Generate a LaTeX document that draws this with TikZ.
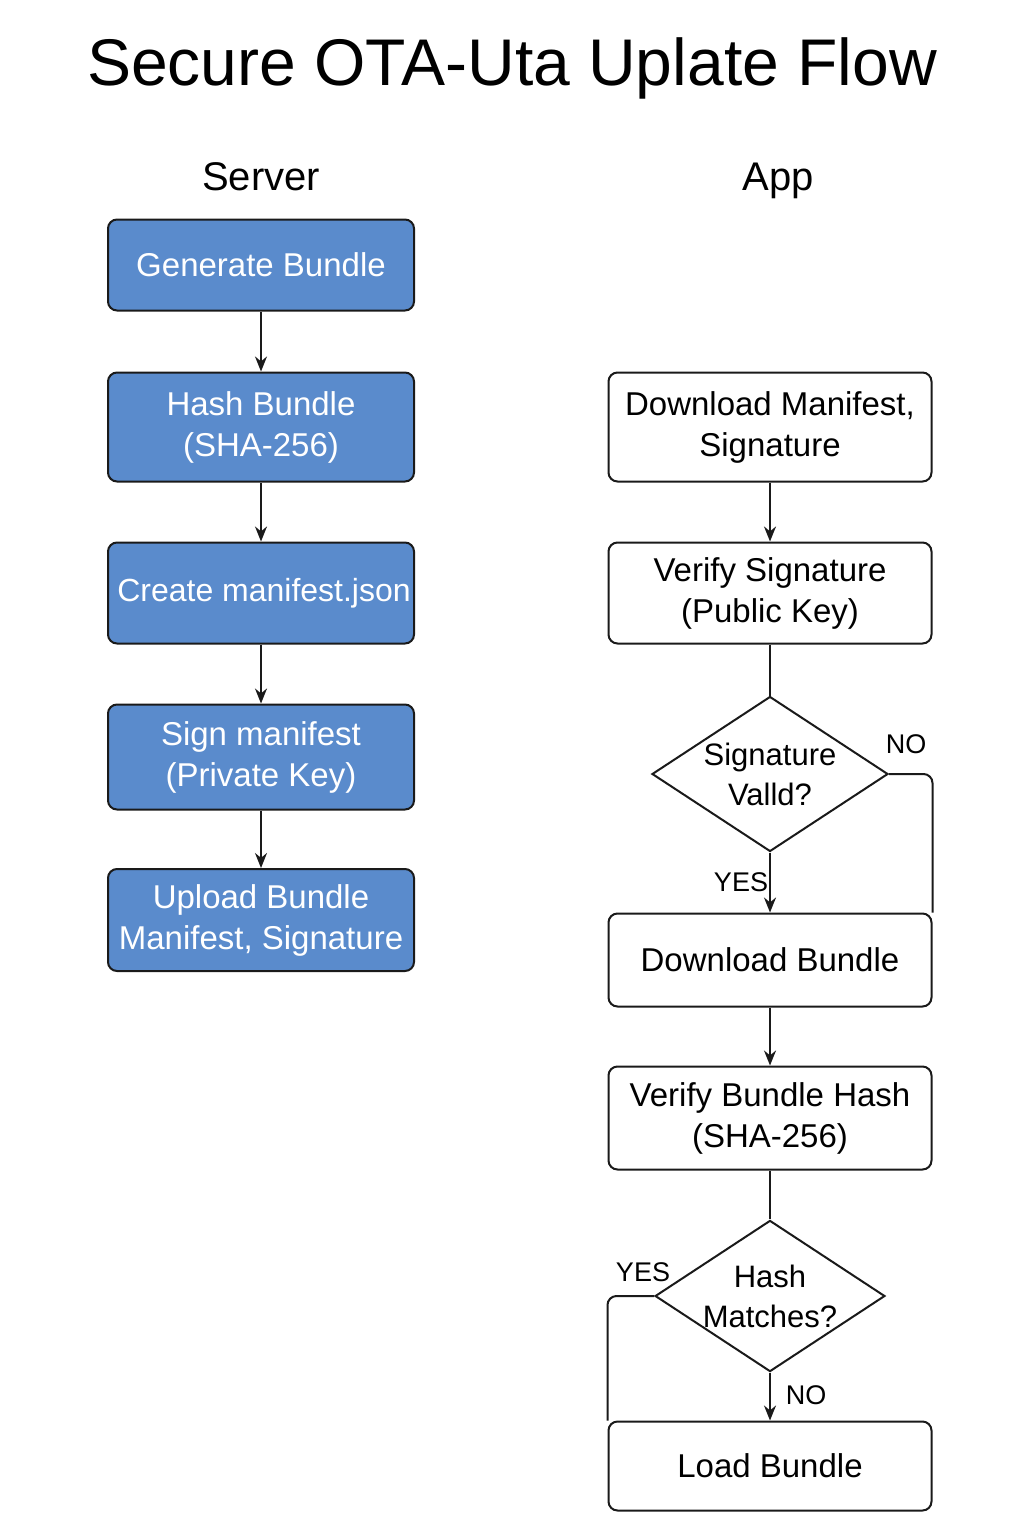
\documentclass[tikz,border=0pt]{standalone}
\usepackage{fontspec}
\setmainfont{Liberation Sans}
\usetikzlibrary{shapes.geometric,arrows.meta}
\definecolor{OTABlue}{HTML}{5A8BCC}
\definecolor{OTALine}{HTML}{1A1A1A}

\begin{document}
\begin{tikzpicture}[x=1pt,y=-1pt,line width=2pt,draw=OTALine,
  srvbox/.style={draw=OTALine,fill=OTABlue,text=white,rounded corners=9pt,
    minimum width=306pt,align=center,font=\fontsize{33}{41}\selectfont},
  appbox/.style={draw=OTALine,fill=white,rounded corners=9pt,
    minimum width=323pt,align=center,font=\fontsize{33}{41}\selectfont},
  check/.style={diamond,draw=OTALine,fill=white,aspect=1.52,inner sep=0pt,
    align=center,font=\fontsize{31}{40}\selectfont},
  flow/.style={-{Stealth[length=15pt,width=12pt]}},
  tag/.style={font=\fontsize{27}{30}\selectfont}]
  \useasboundingbox (0,0) rectangle (1024,1536);

  % headings
  \node[font=\fontsize{66}{72}\selectfont] (title) at (512,68) {Secure OTA-Uta Uplate Flow};
  \node[font=\fontsize{40}{44}\selectfont] (server) at (261,177) {Server};
  \node[font=\fontsize{40}{44}\selectfont] (app) at (778,181) {App};

  % server side
  \node[srvbox,minimum height=91pt] (gen) at (261,265) {Generate Bundle};
  \node[srvbox,minimum height=109pt] (hash) at (261,427) {Hash Bundle\\(SHA-256)};
  \node[srvbox,minimum height=101pt,font=\fontsize{32}{40}\selectfont] (mani) at (261,593)
    {\makebox[0pt]{\hspace*{6pt}Create manifest.json}};
  \node[srvbox,minimum height=105pt] (sign) at (261,757) {Sign manifest\\(Private Key)};
  \node[srvbox,minimum height=102pt] (upl) at (261,920) {Upload Bundle\\Manifest, Signature};
  \draw[flow] (gen) -- (hash);
  \draw[flow] (hash) -- (mani);
  \draw[flow] (mani) -- (sign);
  \draw[flow] (sign) -- (upl);

  % app side
  \node[appbox,minimum height=109pt] (dlm) at (770,427) {Download Manifest,\\Signature};
  \node[appbox,minimum height=101pt] (vsig) at (770,593) {Verify Signature\\(Public Key)};
  \node[check,minimum width=236pt,minimum height=155pt] (sigok) at (770,774) {Signature\\Valld?};
  \node[appbox,minimum height=93pt] (dlb) at (770,960) {Download Bundle};
  \node[appbox,minimum height=103pt] (vhash) at (770,1118) {Verify Bundle Hash\\(SHA-256)};
  \node[check,minimum width=228pt,minimum height=150pt] (hashok) at (770,1296) {Hash\\Matches?};
  \node[appbox,minimum height=89pt] (load) at (770,1466) {Load Bundle};
  \draw[flow] (dlm) -- (vsig);
  \draw (vsig) -- (sigok);
  \draw[flow] (sigok) -- (dlb);
  \draw[rounded corners=9pt] (sigok.east) -| (dlb.north east);
  \draw[flow] (dlb) -- (vhash);
  \draw (vhash) -- (hashok);
  \draw[flow] (hashok) -- (load);
  \draw[rounded corners=9pt] (hashok.west) -| (load.north west);

  % branch labels
  \node[tag] (signo) at (906,744) {NO};
  \node[tag] (sigyes) at (741,882) {YES};
  \node[tag] (hashyes) at (643,1272) {YES};
  \node[tag] (hashno) at (806,1395) {NO};
\end{tikzpicture}
\end{document}
